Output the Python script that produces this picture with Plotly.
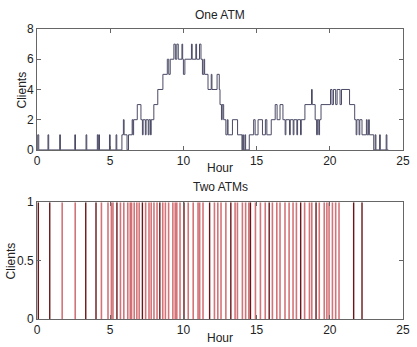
import plotly.graph_objects as go
from plotly.subplots import make_subplots

# ---- Data: One ATM (step changes: time in hours, number of clients) ----
one_atm_t = [0, 0.05, 0.12, 0.75, 0.8, 1.55, 1.6, 2.58, 2.63, 3.35, 3.4,
             4.12, 4.17, 4.22, 4.27, 4.95, 5.0, 5.4, 5.45,
             5.8, 5.9, 5.95, 6.15, 6.25, 6.5, 6.55, 6.6, 6.85,
             7.1, 7.2, 7.25, 7.4, 7.45, 7.6, 7.65, 7.75, 7.8, 7.98,
             8.25, 8.6, 8.9, 9.0, 9.1, 9.35, 9.45, 9.55, 9.65,
             9.9, 9.95, 10.0, 10.1, 10.55, 10.6, 10.85, 10.9, 11.1, 11.2,
             11.3, 11.4, 11.45, 11.68, 11.9, 11.95, 12.3, 12.45,
             12.5, 12.6, 12.65, 12.75, 12.9, 13.0, 13.05, 13.35, 13.7,
             14.0, 14.05, 14.1, 14.2, 14.25, 14.5,
             14.8, 14.9, 15.1, 15.4, 15.6, 15.7, 16.0,
             16.27, 16.4, 16.6, 16.8, 16.95, 17.0, 17.25, 17.3, 17.5, 17.55, 17.75, 17.8,
             18.0, 18.05, 18.3, 18.75, 18.8, 19.0, 19.1, 19.15, 19.25, 19.3, 19.4,
             20.05, 20.15, 20.25, 20.4, 20.5, 20.7, 20.8, 21.35,
             21.7, 21.8, 21.85, 22.0, 22.05, 22.2, 22.5, 22.55, 22.65, 22.7,
             23.0, 23.1, 23.15, 23.4, 23.45, 23.85, 23.9, 24.0]
one_atm_v = [0, 1, 0, 1, 0, 1, 0, 1, 0, 1, 0,
             1, 0, 1, 0, 1, 0, 1, 0,
             1, 2, 1, 0, 1, 2, 1, 2, 3,
             2, 1, 2, 1, 2, 1, 2, 1, 2, 3,
             4, 5, 6, 5, 6, 7, 6, 7, 6,
             7, 6, 5, 6, 7, 6, 7, 6, 7, 6,
             5, 6, 5, 4, 5, 4, 5, 4,
             3, 2, 3, 2, 1, 2, 1, 2, 1,
             0, 1, 0, 1, 0, 1,
             2, 1, 2, 1, 2, 1, 2,
             3, 2, 3, 2, 1, 2, 1, 2, 1, 2, 1, 2,
             1, 2, 3, 4, 3, 2, 1, 2, 1, 2, 3,
             4, 3, 4, 3, 4, 3, 4, 3,
             2, 1, 2, 1, 2, 1, 2, 1, 2, 1,
             0, 1, 0, 1, 0, 1, 0, 0]

# ---- Data: Two ATMs (arrival events, hours) ----
two_atm_dark = [0.09, 0.87, 3.33, 4.03, 5.46, 7.2, 8.39, 10.04, 11.79,
                13.24, 14.58, 15.86, 18.01, 19.06, 21.63, 22.2]
two_atm_red = [1.72, 2.61, 4.4, 4.85, 5.08, 5.19, 5.7, 5.93, 6.2, 6.37, 6.46,
               6.64, 6.82, 6.98, 7.42, 7.65, 7.8, 7.99, 8.2, 8.59, 8.77,
               8.99, 9.28, 9.44, 9.55, 9.77, 10.33, 10.67, 11.0, 11.11, 11.34,
               12.12, 12.35, 12.57, 12.9, 13.53, 13.69, 14.03, 14.25, 14.47,
               14.92, 15.26, 15.59, 16.08, 16.38, 16.6, 16.94, 17.22, 17.49,
               17.72, 18.28, 18.61, 18.77, 19.28, 19.62, 19.8, 19.95, 20.18,
               20.4, 20.63]

x_ticks = [0, 5, 10, 15, 20, 25]
top_y_ticks = [0, 2, 4, 6, 8]
bottom_y_ticks = [0, 0.5, 1]


def spikes(times):
    xs, ys = [], []
    for t in times:
        xs += [t, t, None]
        ys += [0, 1, None]
    return xs, ys


fig = make_subplots(rows=2, cols=1)

fig.add_trace(go.Scatter(x=one_atm_t, y=one_atm_v, mode="lines",
                         line=dict(shape="hv", color="#4a4a66", width=1),
                         showlegend=False), row=1, col=1)

xr, yr = spikes(two_atm_red)
fig.add_trace(go.Scatter(x=xr, y=yr, mode="lines",
                         line=dict(color="rgba(200,80,85,0.8)", width=1.6),
                         showlegend=False), row=2, col=1)
xd, yd = spikes(two_atm_dark)
fig.add_trace(go.Scatter(x=xd, y=yd, mode="lines",
                         line=dict(color="#6a1518", width=1.4),
                         showlegend=False), row=2, col=1)

axis_common = dict(showline=True, linecolor="#666", linewidth=1, mirror="allticks",
                   ticks="inside", ticklen=4, tickcolor="#666", showgrid=False,
                   zeroline=False, tickfont=dict(family="Liberation Sans, Arial", size=12, color="#222"))

fig.update_xaxes(range=[0, 25], tickvals=x_ticks, **axis_common)
fig.update_yaxes(**axis_common)
fig.update_xaxes(domain=[0, 1], row=1, col=1)
fig.update_xaxes(domain=[0, 1], row=2, col=1)
fig.update_yaxes(range=[0, 8], tickvals=top_y_ticks, domain=[0.583, 1], row=1, col=1)
fig.update_yaxes(range=[0, 1], tickvals=bottom_y_ticks, domain=[0, 0.403], row=2, col=1)

font = dict(family="Liberation Sans, Arial", size=12, color="#222")


def label(text, x, y, angle=0):
    return dict(text=text, x=x, y=y, xref="paper", yref="paper", showarrow=False,
                xanchor="center", yanchor="middle", textangle=angle, font=font)


ann = [
    label("One ATM", 0.5, 1.048),
    label("Hour", 0.5, 0.521),
    label("Two ATMs", 0.5, 0.455),
    label("Hour", 0.5, -0.064),
    label("Clients", -0.042, 0.79, -90),
    label("Clients", -0.07, 0.2, -90),
]
fig.update_layout(width=417, height=347, margin=dict(l=37, r=7, t=29, b=28),
                  plot_bgcolor="white", paper_bgcolor="white", annotations=ann)

fig.write_html("out.html")
